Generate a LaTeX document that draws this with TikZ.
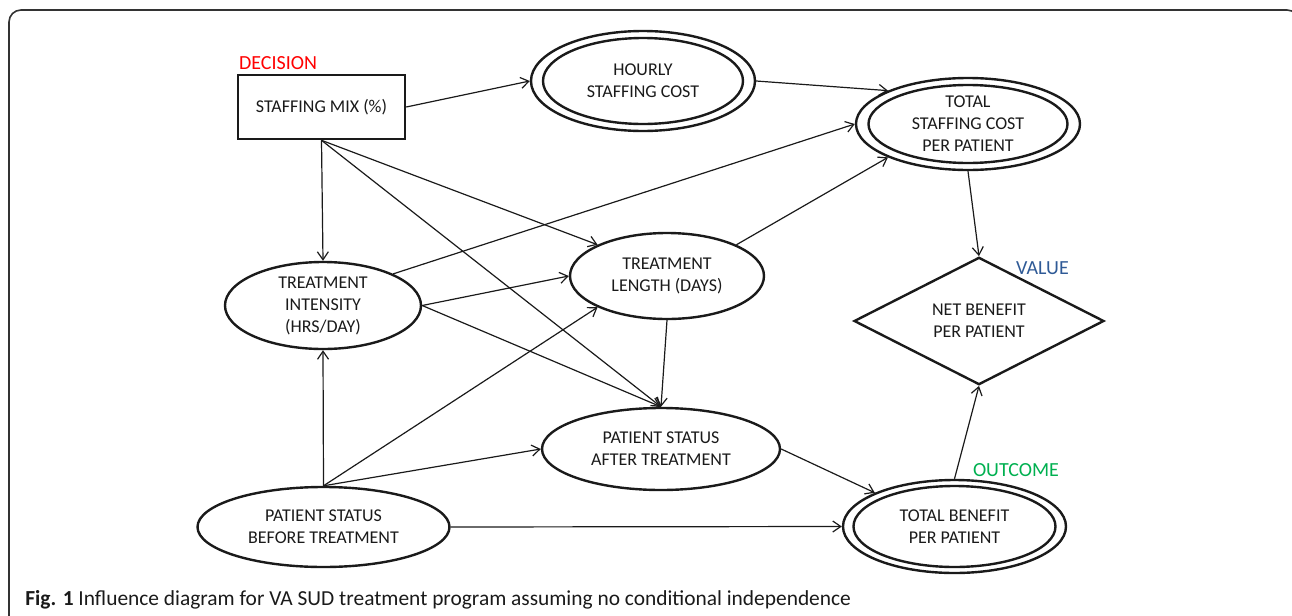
\documentclass[tikz,border=0pt]{standalone}
\usepackage{fontspec}
\setmainfont{Carlito}
\usetikzlibrary{arrows.meta,shapes.geometric}
\definecolor{ink}{HTML}{1A1A1A}
\definecolor{decred}{HTML}{FF0000}
\definecolor{valblue}{HTML}{2F5A96}
\definecolor{outgreen}{HTML}{00B050}
\definecolor{framegray}{HTML}{333333}
\newcommand{\nodefont}{\fontsize{9}{11}\selectfont}
\tikzset{chance/.style={ellipse,draw=ink,line width=1.2pt,inner sep=0pt,align=center,text=ink,font=\nodefont},
  decbox/.style={rectangle,draw=ink,line width=1.3pt,inner sep=0pt,text=ink,font=\nodefont},
  valnode/.style={diamond,draw=ink,line width=1.2pt,inner sep=0pt,align=center,text=ink,font=\nodefont},
  ring/.style={draw=ink,line width=1.2pt},
  link/.style={draw=ink,line width=0.6pt,-{Straight Barb[length=4pt,width=5.5pt]}},
  lab/.style={inner sep=0pt,font=\fontsize{10}{12}\selectfont}}
\newcommand{\innerring}[3]{\draw[ring] (#1.center) ellipse [x radius=#2,y radius=#3];}

\begin{document}
\begin{tikzpicture}[x=0.5pt,y=-0.5pt]
\useasboundingbox (0,0) rectangle (1292,616);
% Frame, cut off at the right and at the bottom.
\begin{scope}
\clip (0,0) rectangle (1292,616);
\draw[framegray,line width=0.8pt,rounded corners=6pt] (9,10) rectangle (1299,650);
\end{scope}
% Decision, costs and value.
\node[decbox,minimum width=83.5pt,minimum height=32pt] (mix) at (321.5,107) {STAFFING MIX (\%)};
\node[lab,text=decred] (declab) at (278,63) {DECISION};
\node[chance,minimum width=112pt,minimum height=50pt] (hourly) at (643,81) {HOURLY\\STAFFING COST};
\innerring{hourly}{100}{43}
\node[chance,minimum width=112pt,minimum height=46pt] (totstaff) at (968,124) {TOTAL\\STAFFING COST\\PER PATIENT};
\innerring{totstaff}{99.5}{39}
\node[valnode,minimum width=125pt,minimum height=59pt] (value) at (979,321) {NET BENEFIT\\PER PATIENT};
\node[lab,text=valblue] (vallab) at (1042.5,268) {VALUE};
% Treatment and patient status.
\node[chance,minimum width=98pt,minimum height=43.5pt] (intensity) at (323,305.5) {TREATMENT\\INTENSITY\\(HRS/DAY)};
\node[chance,minimum width=97pt,minimum height=43pt] (length) at (667,276) {TREATMENT\\LENGTH (DAYS)};
\node[chance,minimum width=119pt,minimum height=41pt] (after) at (661,449) {PATIENT STATUS\\AFTER TREATMENT};
\node[chance,minimum width=126pt,minimum height=40pt] (before) at (323.5,527) {PATIENT STATUS\\BEFORE TREATMENT};
\node[chance,minimum width=111.5pt,minimum height=46.5pt] (benefit) at (954.5,526.5) {TOTAL BENEFIT\\PER PATIENT};
\innerring{benefit}{101}{40.5}
\node[lab,text=outgreen] (outlab) at (1016,470) {OUTCOME};
% Influences.
\draw[link] (mix.east) -- (hourly.west);
\draw[link] (hourly.east) -- (totstaff.north west);
\draw[link] (intensity.north east) -- (totstaff.west);
\draw[link] (length.north east) -- (totstaff.south west);
\draw[link] (totstaff.south) -- (value.north);
\draw[link] (mix.south) -- (intensity.north);
\draw[link] (mix.south) -- (length.north west);
\draw[link] (mix.south) -- (after.north);
\draw[link] (intensity.east) -- (length.west);
\draw[link] (intensity.east) -- (after.north);
\draw[link] (length.south) -- (after.north);
\draw[link] (before.north) -- (intensity.south);
\draw[link] (before.north) -- (length.south west);
\draw[link] (before.north) -- (after.west);
\draw[link] (before.east) -- (benefit.west);
\draw[link] (after.east) -- (benefit.north west);
\draw[link] (benefit.north) -- (value.south);
% Caption.
\node[anchor=base west,inner sep=0pt,text=ink,font=\fontsize{10.7}{12}\selectfont] (cap) at (25,605.5) {\textbf{Fig. 1} Influence diagram for VA SUD treatment program assuming no conditional independence};
\end{tikzpicture}
\end{document}
